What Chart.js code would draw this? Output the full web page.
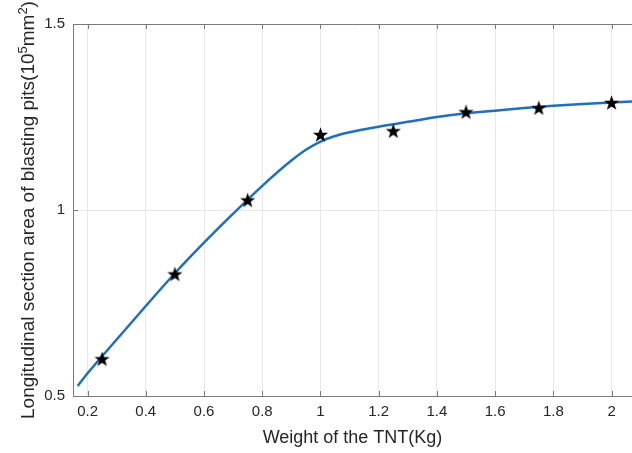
<!DOCTYPE html>
<html>
<head>
<meta charset="utf-8">
<script src="https://cdn.jsdelivr.net/npm/chart.js@4"></script>
<style>
html,body{margin:0;padding:0;background:#fff;}
#wrap{width:632px;height:453px;position:relative;}
</style>
</head>
<body>
<div id="wrap"><canvas id="c" width="632" height="453"></canvas></div>
<script>
// Measured data (stars)
const tntWeights = [0.25, 0.5, 0.75, 1.0, 1.25, 1.5, 1.75, 2.0];
const pitAreas   = [0.600, 0.828, 1.027, 1.203, 1.213, 1.264, 1.275, 1.289];
// Fitted curve
const fitX = [0.166, 0.2, 0.3, 0.4, 0.5, 0.6, 0.7, 0.8, 0.9, 0.95, 1.0, 1.05, 1.1, 1.2, 1.3, 1.4, 1.5, 1.6, 1.7, 1.8, 1.9, 2.0, 2.1];
const fitY = [0.527, 0.561, 0.652, 0.742, 0.830, 0.912, 0.990, 1.065, 1.133, 1.162, 1.184, 1.199, 1.209, 1.224, 1.237, 1.250, 1.260, 1.267, 1.274, 1.280, 1.285, 1.289, 1.293];
// Ticks
const xTicks = [0.2, 0.4, 0.6, 0.8, 1.0, 1.2, 1.4, 1.6, 1.8, 2.0];
const xTickLabels = ['0.2', '0.4', '0.6', '0.8', '1', '1.2', '1.4', '1.6', '1.8', '2'];
const yTicks = [0.5, 1.0, 1.5];
const yTickLabels = ['0.5', '1', '1.5'];
// Axis titles
const xTitle = 'Weight of the TNT(Kg)';
const yTitleParts = [['Longitudinal section area of blasting pits(10', false], ['5', true], ['mm', false], ['2', true], [')', false]];

const FONT = "'Liberation Sans', Arial, Helvetica, sans-serif";
const TXT = '#262626';

// filled pentagram marker
function makeStar(size) {
  const cv = document.createElement('canvas');
  cv.width = size; cv.height = size;
  const g = cv.getContext('2d');
  const cx = size / 2, cy = size / 2 + 0.8;
  const R = size / 2 - 0.5, r = R * 0.40;
  g.beginPath();
  for (let i = 0; i < 10; i++) {
    const ang = -Math.PI / 2 + i * Math.PI / 5;
    const rad = i % 2 === 0 ? R : r;
    const px = cx + rad * Math.cos(ang), py = cy + rad * Math.sin(ang);
    if (i === 0) g.moveTo(px, py); else g.lineTo(px, py);
  }
  g.closePath();
  g.fillStyle = '#000';
  g.fill();
  return cv;
}
const starImg = makeStar(17);

const boxPlugin = {
  id: 'boxPlugin',
  afterDatasetsDraw(chart) {
    const {ctx, chartArea: a, scales} = chart;
    ctx.save();
    ctx.strokeStyle = '#7a7a7a';
    ctx.lineWidth = 1;
    ctx.beginPath();
    ctx.moveTo(a.left, a.top + 0.5);
    ctx.lineTo(a.right, a.top + 0.5);
    xTicks.forEach(v => {
      const x = Math.round(scales.x.getPixelForValue(v)) + 0.5;
      ctx.moveTo(x, a.bottom); ctx.lineTo(x, a.bottom - 5);
      ctx.moveTo(x, a.top); ctx.lineTo(x, a.top + 5);
    });
    yTicks.forEach(v => {
      const y = Math.round(scales.y.getPixelForValue(v)) + 0.5;
      ctx.moveTo(a.left, y); ctx.lineTo(a.left + 5, y);
    });
    ctx.stroke();
    ctx.restore();
  },
  afterDraw(chart) {
    // y axis title with true superscripts
    const {ctx, chartArea: a} = chart;
    const big = 'normal 19px ' + FONT, small = 'normal 13px ' + FONT;
    ctx.save();
    let total = 0;
    yTitleParts.forEach(([t, sup]) => { ctx.font = sup ? small : big; total += ctx.measureText(t).width; });
    const cy = (a.top + a.bottom) / 2;
    ctx.translate(34, cy);
    ctx.rotate(-Math.PI / 2);
    ctx.fillStyle = TXT;
    ctx.textBaseline = 'alphabetic';
    let x = -total / 2;
    yTitleParts.forEach(([t, sup]) => {
      ctx.font = sup ? small : big;
      ctx.fillText(t, x, sup ? -7.5 : 0);
      x += ctx.measureText(t).width;
    });
    ctx.restore();
  }
};

new Chart(document.getElementById('c'), {
  type: 'scatter',
  data: {
    datasets: [
      {
        label: 'fit',
        data: fitX.map((x, i) => ({x: x, y: fitY[i]})),
        showLine: true,
        borderColor: '#1f6fc0',
        borderWidth: 2.5,
        pointRadius: 0,
        cubicInterpolationMode: 'monotone',
        order: 2
      },
      {
        label: 'test',
        data: tntWeights.map((x, i) => ({x: x, y: pitAreas[i]})),
        showLine: false,
        pointStyle: starImg,
        pointRadius: 8,
        order: 1
      }
    ]
  },
  options: {
    responsive: false,
    animation: false,
    devicePixelRatio: 1,
    layout: {autoPadding: false, padding: {top: 24, right: 0, left: 0, bottom: 0}},
    plugins: {legend: {display: false}, tooltip: {enabled: false}},
    scales: {
      x: {
        type: 'linear',
        min: 0.15, max: 2.07,
        afterBuildTicks(s) { s.ticks = xTicks.map(v => ({value: v})); },
        afterFit(s) { s.height = 57; s.paddingLeft = 0; s.paddingRight = 0; },
        ticks: {
          callback: (v) => { const i = xTicks.findIndex(t => Math.abs(t - v) < 1e-9); return i >= 0 ? xTickLabels[i] : ''; },
          font: {family: FONT, size: 15}, color: TXT, padding: 7, maxRotation: 0, autoSkip: false
        },
        grid: {color: '#e8e8e8', lineWidth: 1, drawTicks: false},
        border: {display: true, color: '#7a7a7a', width: 1},
        title: {display: true, text: xTitle, font: {family: FONT, size: 18}, color: TXT, padding: {top: 2, bottom: 4}}
      },
      y: {
        type: 'linear',
        min: 0.5, max: 1.5,
        afterBuildTicks(s) { s.ticks = yTicks.map(v => ({value: v})); },
        afterFit(s) { s.width = 73; s.paddingTop = 0; s.paddingBottom = 0; },
        ticks: {
          callback: (v) => { const i = yTicks.findIndex(t => Math.abs(t - v) < 1e-9); return i >= 0 ? yTickLabels[i] : ''; },
          font: {family: FONT, size: 15}, color: TXT, padding: 8
        },
        grid: {color: '#e8e8e8', lineWidth: 1, drawTicks: false},
        border: {display: true, color: '#7a7a7a', width: 1},
        title: {display: false}
      }
    }
  },
  plugins: [boxPlugin]
});
</script>
</body>
</html>
